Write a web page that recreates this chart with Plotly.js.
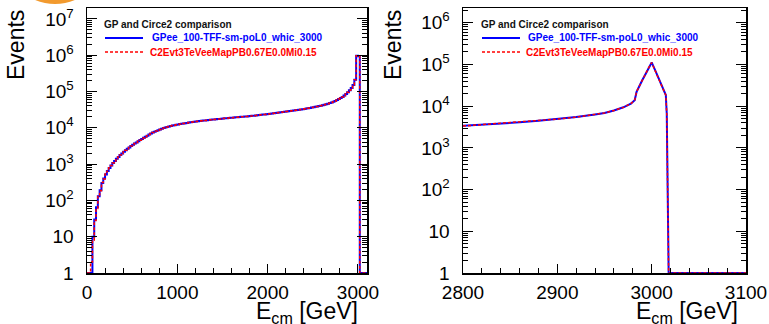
<!DOCTYPE html>
<html>
<head>
<meta charset="utf-8">
<script src="https://cdn.plot.ly/plotly-3.0.1.min.js"></script>
<style>html,body{margin:0;padding:0;background:#fff;}#plot{width:769px;height:324px;}</style>
</head>
<body>
<div id="plot"></div>
<script>
// ---------- data ----------
const binWidthLeft = 20;           // GeV
const leftStart = 0;
// GP (blue) counts per 20 GeV bin, 0 .. 3100 GeV
const gpFull = [
  0,0,0,10,30,65,130,190,300,400,
  520,650,780,920,1070,1220,1400,1580,1770,1970,
  2180,2400,2640,2880,3130,3400,3680,3960,4260,4580,
  4920,5280,5660,6050,6500,6950,7400,7800,8200,8600,
  9000,9400,9800,10150,10500,10850,11200,11500,11800,12100,
  12400,12650,12900,13150,13400,13650,13900,14150,14400,14650,
  14900,15150,15400,15600,15800,16000,16200,16400,16600,16800,
  17000,17200,17400,17600,17800,18000,18200,18400,18600,18800,
  19000,19200,19400,19600,19800,20000,20200,20400,20600,20800,
  21000,21300,21600,21900,22200,22500,22800,23100,23400,23700,
  24000,24400,24800,25200,25600,26000,26400,26800,27200,27600,
  28000,28500,29000,29500,30000,30500,31000,31500,32000,32600,
  33200,33900,34600,35300,36000,36800,37700,38600,39600,40700,
  41900,43200,44600,46200,48000,50000,52500,55000,58000,62000,
  66000,71000,77000,85000,95000,108000,125000,150000,210000,970000,
  940000,0,0,0,0
];
// Circe2 (red) counts per 20 GeV bin, 0 .. 3100 GeV
const c2Full = [
  0,0,2,8,28,60,140,185,310,390,
  530,640,790,910,1080,1210,1410,1570,1780,1960,
  2190,2390,2650,2870,3140,3390,3690,3950,4270,4570,
  4930,5270,5670,6040,6510,6940,7410,7790,8210,8590,
  9010,9390,9810,10140,10510,10840,11210,11490,11810,12090,
  12410,12640,12910,13140,13410,13640,13910,14140,14410,14640,
  14910,15140,15410,15590,15810,15990,16210,16390,16610,16790,
  17010,17190,17410,17590,17810,17990,18210,18390,18610,18790,
  19010,19190,19410,19590,19810,19990,20210,20390,20610,20790,
  21010,21290,21610,21890,22210,22490,22810,23090,23410,23690,
  24010,24390,24810,25190,25610,25990,26410,26790,27210,27590,
  28010,28490,29010,29490,30010,30490,31010,31490,32010,32590,
  33210,33890,34610,35290,36010,36790,37710,38590,39610,40690,
  41910,43190,44610,46190,48010,49990,52510,54990,58010,61990,
  66010,70990,77010,84990,95010,107990,125010,149990,209000,965000,
  945000,0,0,0,0
];
// zoomed view (2800-3100 GeV), per-GeV counts
const zoomE  = [2800,2820,2840,2860,2880,2900,2920,2940,2950,2960,2970,2978,2982,2984,2986,2990,2994,2997,3000,3004,3008,3012,3015,3016,3017,3018,3100];
const gpZoom = [3400,3600,3800,4100,4500,4900,5500,6300,6900,7900,9400,11500,14000,22000,28000,42000,62000,85000,112000,70000,42000,28000,18500,6500,20,0,0];
const c2Zoom = [3350,3620,3790,4120,4480,4920,5480,6320,6880,7920,9380,11600,13900,22300,27800,42400,61600,85400,111000,70400,41700,28200,18300,6400,19,0,0];

const xTicksLeft  = [0,1000,2000,3000];
const xTicksRight = [2800,2900,3000,3100];
const yTicksLeft  = [1,10,100,1e3,1e4,1e5,1e6,1e7];
const yTextLeft   = ['1','10','10<sup>2</sup>','10<sup>3</sup>','10<sup>4</sup>','10<sup>5</sup>','10<sup>6</sup>','10<sup>7</sup>'];
const yTicksRight = [1,10,100,1e3,1e4,1e5,1e6];
const yTextRight  = yTextLeft.slice(0,7);

const legendTitle = 'GP and Circe2 comparison';
const nameGP = 'GPee_100-TFF-sm-poL0_whic_3000';
const nameC2 = 'C2Evt3TeVeeMapPB0.67E0.0Mi0.15';

// ---------- helpers ----------
const W = 769, H = 324;
const px = v => v / W;
const py = v => 1 - v / H;
const floorLog = arr => arr.map(v => v > 0 ? v : 1);   // empty bins sit on the frame bottom
function edges(n){ const e=[]; for(let i=0;i<=n;i++) e.push(leftStart + i*binWidthLeft); return e; }
const leftX = edges(gpFull.length);
const gpY = floorLog(gpFull.concat([gpFull[gpFull.length-1]]));
const c2Y = floorLog(c2Full.concat([c2Full[c2Full.length-1]]));

const BLUE = '#0000ff', RED = '#ff0000';
const FONT = 'Liberation Sans, Arial, Helvetica, sans-serif';

const traces = [
  {x:leftX, y:gpY, type:'scatter', mode:'lines', line:{shape:'hv', color:BLUE, width:2}, xaxis:'x', yaxis:'y', name:nameGP},
  {x:leftX, y:c2Y, type:'scatter', mode:'lines', line:{shape:'hv', color:RED, width:1.5, dash:'3px,2px'}, xaxis:'x', yaxis:'y', name:nameC2},
  {x:zoomE, y:floorLog(gpZoom), type:'scatter', mode:'lines', line:{color:BLUE, width:2}, xaxis:'x2', yaxis:'y2', name:nameGP},
  {x:zoomE, y:floorLog(c2Zoom), type:'scatter', mode:'lines', line:{color:RED, width:1.5, dash:'3px,2px'}, xaxis:'x2', yaxis:'y2', name:nameC2}
];

const tickFont = {family:FONT, size:19, color:'black'};
function xAx(dom, rng, tv, minorD){
  return {domain:dom, range:rng, tickmode:'array', tickvals:tv, ticks:'inside', ticklen:9, tickwidth:1, tickcolor:'black',
    showline:true, linecolor:'black', linewidth:1.5, mirror:true, showgrid:false, zeroline:false,
    tickfont:tickFont, ticklabelstandoff:2,
    minor:{ticks:'inside', ticklen:5, tickwidth:1, tickcolor:'black', dtick:minorD, showgrid:false}};
}
function yAx(rng, tv, tt){
  return {domain:[py(273), py(8)], type:'log', range:rng, tickmode:'array', tickvals:tv, ticktext:tt,
    ticks:'inside', ticklen:10, tickwidth:1, tickcolor:'black',
    showline:true, linecolor:'black', linewidth:1.5, mirror:'ticks', showgrid:false, zeroline:false,
    tickfont:tickFont, ticklabelstandoff:8,
    minor:{ticks:'inside', ticklen:5, tickwidth:1, tickcolor:'black', dtick:'D1', showgrid:false}};
}

const ann = [];
const shapes = [];
function legendBlock(x0, textX){
  ann.push({xref:'paper', yref:'paper', x:px(x0-3), y:py(24), xanchor:'left', yanchor:'middle', showarrow:false,
    text:'<b>'+legendTitle+'</b>', font:{family:FONT, size:10, color:'#111'}});
  ann.push({xref:'paper', yref:'paper', x:px(textX), y:py(38), xanchor:'left', yanchor:'middle', showarrow:false,
    text:'<b>'+nameGP+'</b>', font:{family:FONT, size:10, color:BLUE}});
  ann.push({xref:'paper', yref:'paper', x:px(textX-2), y:py(52), xanchor:'left', yanchor:'middle', showarrow:false,
    text:'<b>'+nameC2+'</b>', font:{family:FONT, size:10, color:RED}});
  shapes.push({type:'line', xref:'paper', yref:'paper', x0:px(x0), x1:px(x0+38), y0:py(38), y1:py(38), line:{color:BLUE, width:2}});
  shapes.push({type:'line', xref:'paper', yref:'paper', x0:px(x0), x1:px(x0+38), y0:py(52), y1:py(52), line:{color:RED, width:1.5, dash:'3px,2px'}});
}
legendBlock(105, 150);
legendBlock(482, 526);

// axis titles
[[16, 360],[393, 740]].forEach(([yx, xr])=>{
  ann.push({xref:'paper', yref:'paper', x:px(yx), y:py(8), xanchor:'center', yanchor:'top', textangle:-90, showarrow:false,
    text:'Events', font:{family:FONT, size:23, color:'black'}});
  ann.push({xref:'paper', yref:'paper', x:px(xr), y:py(312), xanchor:'right', yanchor:'middle', showarrow:false,
    text:'E<sub>cm</sub> [GeV]', font:{family:FONT, size:23, color:'black'}});
});

// orange logo fragment at the top-left corner
shapes.push({type:'circle', xref:'paper', yref:'paper', x0:px(3), x1:px(107), y0:py(4), y1:py(-100),
  fillcolor:'#f29a2e', line:{width:0}, layer:'above'});

const layout = {
  width:W, height:H, margin:{l:0, r:0, t:0, b:0}, paper_bgcolor:'white', plot_bgcolor:'white',
  showlegend:false,
  xaxis: Object.assign(xAx([px(87), px(367)], [0,3100], xTicksLeft, 200), {anchor:'y'}),
  yaxis: Object.assign(yAx([0, 7.3], yTicksLeft, yTextLeft), {anchor:'x'}),
  xaxis2: Object.assign(xAx([px(463), px(746)], [2800,3100], xTicksRight, 20), {anchor:'y2'}),
  yaxis2: Object.assign(yAx([0, 6.355], yTicksRight, yTextRight), {anchor:'x2'}),
  annotations: ann, shapes: shapes
};

Plotly.newPlot('plot', traces, layout, {staticPlot:true, displayModeBar:false});
</script>
</body>
</html>
